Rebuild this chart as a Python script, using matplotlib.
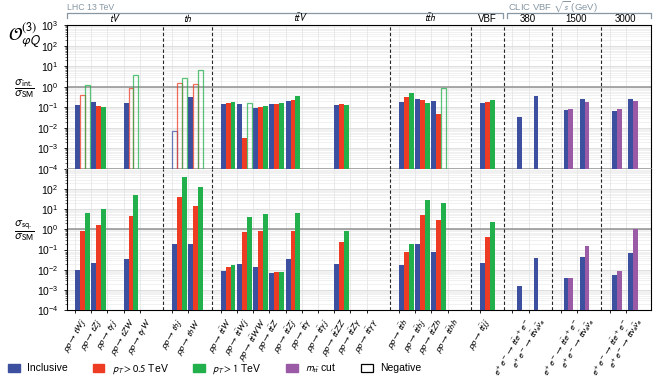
import numpy as np
import matplotlib
matplotlib.use("Agg")
import matplotlib.pyplot as plt
import matplotlib.transforms as mtransforms
from matplotlib.patches import Patch
from matplotlib.ticker import LogLocator, NullFormatter

plt.rcParams['font.family'] = ['Liberation Sans', 'DejaVu Sans']
plt.rcParams['mathtext.fontset'] = 'stixsans'

nan = np.nan

# groups of processes along x
group_names = ['$tV$', '$th$', r'$t\bar{t}V$', r'$t\bar{t}h$', 'VBF', '380', '1500', '3000']
group_sizes = [5, 2, 10, 4, 1, 2, 2, 2]

lhc_labels = [r'$pp\to tWj$', r'$pp\to tZj$', r'$pp\to t\gamma j$', r'$pp\to tZW$', r'$pp\to t\gamma W$',
              r'$pp\to thj$', r'$pp\to thW$',
              r'$pp\to t\bar{t}W$', r'$pp\to t\bar{t}Wj$', r'$pp\to t\bar{t}WW$', r'$pp\to t\bar{t}Z$',
              r'$pp\to t\bar{t}Zj$', r'$pp\to t\bar{t}\gamma$', r'$pp\to t\bar{t}\gamma j$',
              r'$pp\to t\bar{t}ZZ$', r'$pp\to t\bar{t}Z\gamma$', r'$pp\to t\bar{t}\gamma\gamma$',
              r'$pp\to t\bar{t}h$', r'$pp\to t\bar{t}hj$', r'$pp\to t\bar{t}Zh$', r'$pp\to t\bar{t}hh$',
              r'$pp\to t\bar{t}jj$']
clic_labels = [r'$e^+e^-\to t\bar{t}e^+e^-$', r'$e^+e^-\to t\bar{t}\nu_e\bar{\nu}_e$'] * 3

# sigma_int / sigma_SM  (negative value = negative interference, drawn open)
int_incl = [0.13, 0.19, nan, 0.16, nan, -0.0069, 0.34,
            0.14, 0.148, 0.091, 0.14, 0.21, nan, nan, 0.13, nan, nan,
            0.186, 0.26, 0.215, nan, 0.166]
int_pt05 = [-0.41, 0.12, nan, -0.87, nan, -1.6, -1.35,
            0.165, 0.0031, 0.105, 0.154, 0.23, nan, nan, 0.14, nan, nan,
            0.34, 0.24, 0.048, nan, 0.186]
int_pt1 = [-1.2, 0.105, nan, -3.8, nan, -2.75, -7.0,
           0.18, -0.16, 0.118, 0.16, 0.35, nan, nan, 0.133, nan, nan,
           0.49, 0.16, -0.89, nan, 0.23]
int_clic_incl = [0.034, 0.38, 0.076, 0.25, 0.07, 0.25]
int_clic_mtt = [nan, nan, 0.085, 0.19, 0.088, 0.21]

# sigma_sq / sigma_SM
sq_incl = [0.0093, 0.021, nan, 0.034, nan, 0.18, 0.18,
           0.0087, 0.02, 0.014, 0.0066, 0.034, nan, nan, 0.019, nan, nan,
           0.018, 0.18, 0.079, nan, 0.022]
sq_pt05 = [0.8, 1.6, nan, 4.9, nan, 43, 15,
           0.014, 0.71, 0.86, 0.0077, 0.86, nan, nan, 0.25, nan, nan,
           0.075, 5.5, 3.0, nan, 0.43]
sq_pt1 = [6.2, 10.5, nan, 54, nan, 400, 130,
          0.018, 4.1, 6.0, 0.0077, 6.7, nan, nan, 0.8, nan, nan,
          0.2, 28, 21, nan, 2.4]
sq_clic_incl = [0.0015, 0.037, 0.0041, 0.041, 0.0053, 0.065]
sq_clic_mtt = [nan, nan, 0.0041, 0.144, 0.0084, 1.02]

c_incl = '#3d4f9f'
c_pt05 = '#ee3b24'
c_pt1 = '#21b04b'
c_mtt = '#9a5aa5'

# x positions, one empty slot between groups
pos = []
start = 0
for n in group_sizes:
    pos += list(range(start, start + n))
    start += n + 1
pos = np.array(pos, float)
x_lhc = pos[:22]
x_clic = pos[22:]
w = 0.3
bot = 1e-4

fig = plt.figure(figsize=(6.64, 3.8), dpi=100)
ax1 = fig.add_axes([0.1009, 0.5553, 0.8795, 0.3776])
ax2 = fig.add_axes([0.1009, 0.1842, 0.8795, 0.3711], sharex=ax1)


def bars(ax, x, vals, color):
    v = np.array(vals, float)
    ok = ~np.isnan(v)
    pos_ = ok & (v > 0)
    neg = ok & (v < 0)
    ax.bar(x[pos_], np.abs(v[pos_]) - bot, w, bottom=bot, align='edge',
           color=color, lw=0, zorder=3)
    ax.bar(x[neg], np.abs(v[neg]) - bot, w, bottom=bot, align='edge',
           facecolor='none', edgecolor=color, lw=0.9, alpha=0.75, zorder=3)


clic_off = np.array([0.3, 0.3, 0.15, 0.15, 0.15, 0.15])
for ax, vals in [(ax1, (int_incl, int_pt05, int_pt1, int_clic_incl, int_clic_mtt)),
                 (ax2, (sq_incl, sq_pt05, sq_pt1, sq_clic_incl, sq_clic_mtt))]:
    bars(ax, x_lhc, vals[0], c_incl)
    bars(ax, x_lhc + w, vals[1], c_pt05)
    bars(ax, x_lhc + 2 * w, vals[2], c_pt1)
    bars(ax, x_clic + clic_off, vals[3], c_incl)
    bars(ax, x_clic + clic_off + w, vals[4], c_mtt)

    ax.set_yscale('log')
    ax.set_ylim(1e-4, 1e3)
    ax.set_xlim(-0.5, 35.55)
    ax.yaxis.set_minor_locator(LogLocator(base=10, subs=np.arange(2, 10), numticks=20))
    ax.yaxis.set_minor_formatter(NullFormatter())
    ax.grid(which='major', axis='y', color='0.85', lw=0.6, zorder=0)
    ax.grid(which='minor', axis='y', color='0.9', lw=0.4, zorder=0)
    ax.grid(which='major', axis='x', color='0.9', lw=0.6, zorder=0)
    ax.set_axisbelow(True)
    ax.axhline(1, color='0.6', lw=1.2, zorder=2)
    ax.tick_params(axis='y', labelsize=7.5, length=2.5, width=0.6)
    ax.tick_params(axis='y', which='minor', length=1.2, width=0.4)
    # group separators
    ends = np.cumsum(np.array(group_sizes) + 1)[:-1]
    for e in ends:
        ax.axvline(e - 1 + 0.45, color='0.15', lw=0.8, ls=(0, (3, 2)), zorder=4)
    for s in ax.spines.values():
        s.set_linewidth(0.8)

ax1.set_yticks([10.0 ** k for k in range(-4, 4)])
ax2.set_yticks([10.0 ** k for k in range(-4, 3)])
ax1.spines['bottom'].set_color('0.6')
ax1.spines['bottom'].set_linewidth(1.2)
ax2.spines['top'].set_visible(False)
ax1.tick_params(axis='x', length=0, labelbottom=False)
ax2.set_xticks(pos)
ax2.set_xticklabels(lhc_labels + clic_labels, rotation=60, ha='center', va='top',
                    fontsize=6.8)
ax2.tick_params(axis='x', length=2.5, width=0.6, pad=2)

# group titles and header brackets
trans = mtransforms.blended_transform_factory(ax1.transData, ax1.transAxes)
i0 = 0
for name, n in zip(group_names, group_sizes):
    xc = (pos[i0] + pos[i0 + n - 1]) / 2 + 0.45
    ax1.text(xc, 1.012, name, transform=trans, ha='center', va='bottom', fontsize=7)
    i0 += n

hc = '#8797a3'
for x0, x1 in [(-0.5, 26.4), (26.68, 35.55)]:
    ax1.plot([x0, x0, x1, x1], [1.05, 1.084, 1.084, 1.05], transform=trans,
             color=hc, lw=0.9, clip_on=False)
ax1.text(-0.5, 1.108, 'LHC 13 TeV', transform=trans, ha='left', va='baseline',
         fontsize=6.3, color=hc)
ax1.text(26.7, 1.103, r'CLIC VBF $\sqrt{s}$ (GeV)', transform=trans, ha='left',
         va='baseline', fontsize=6.8, color=hc)

fig.text(0.012, 0.905, r'$\mathcal{O}_{\varphi Q}^{(3)}$', fontsize=13, ha='left', va='center')
fig.text(0.037, 0.768, r'$\dfrac{\sigma_{\rm int.}}{\sigma_{\rm SM}}$', fontsize=8.5,
         ha='center', va='center')
fig.text(0.037, 0.392, r'$\dfrac{\sigma_{\rm sq.}}{\sigma_{\rm SM}}$', fontsize=8.5,
         ha='center', va='center')

handles = [Patch(color=c_incl), Patch(color=c_pt05), Patch(color=c_pt1), Patch(color=c_mtt),
           Patch(facecolor='none', edgecolor='black', lw=0.9)]
names = ['Inclusive', r'$p_T > 0.5$ TeV', r'$p_T > 1$ TeV', r'$m_{t\bar{t}}$ cut', 'Negative']
fig.legend(handles, names, ncol=5, loc='center left', bbox_to_anchor=(0.0, 0.03),
           frameon=False, fontsize=7.5, handlelength=1.1, handleheight=0.9,
           handletextpad=0.7, columnspacing=2.4, borderpad=0.3)

fig.savefig('out.png', dpi=100)
